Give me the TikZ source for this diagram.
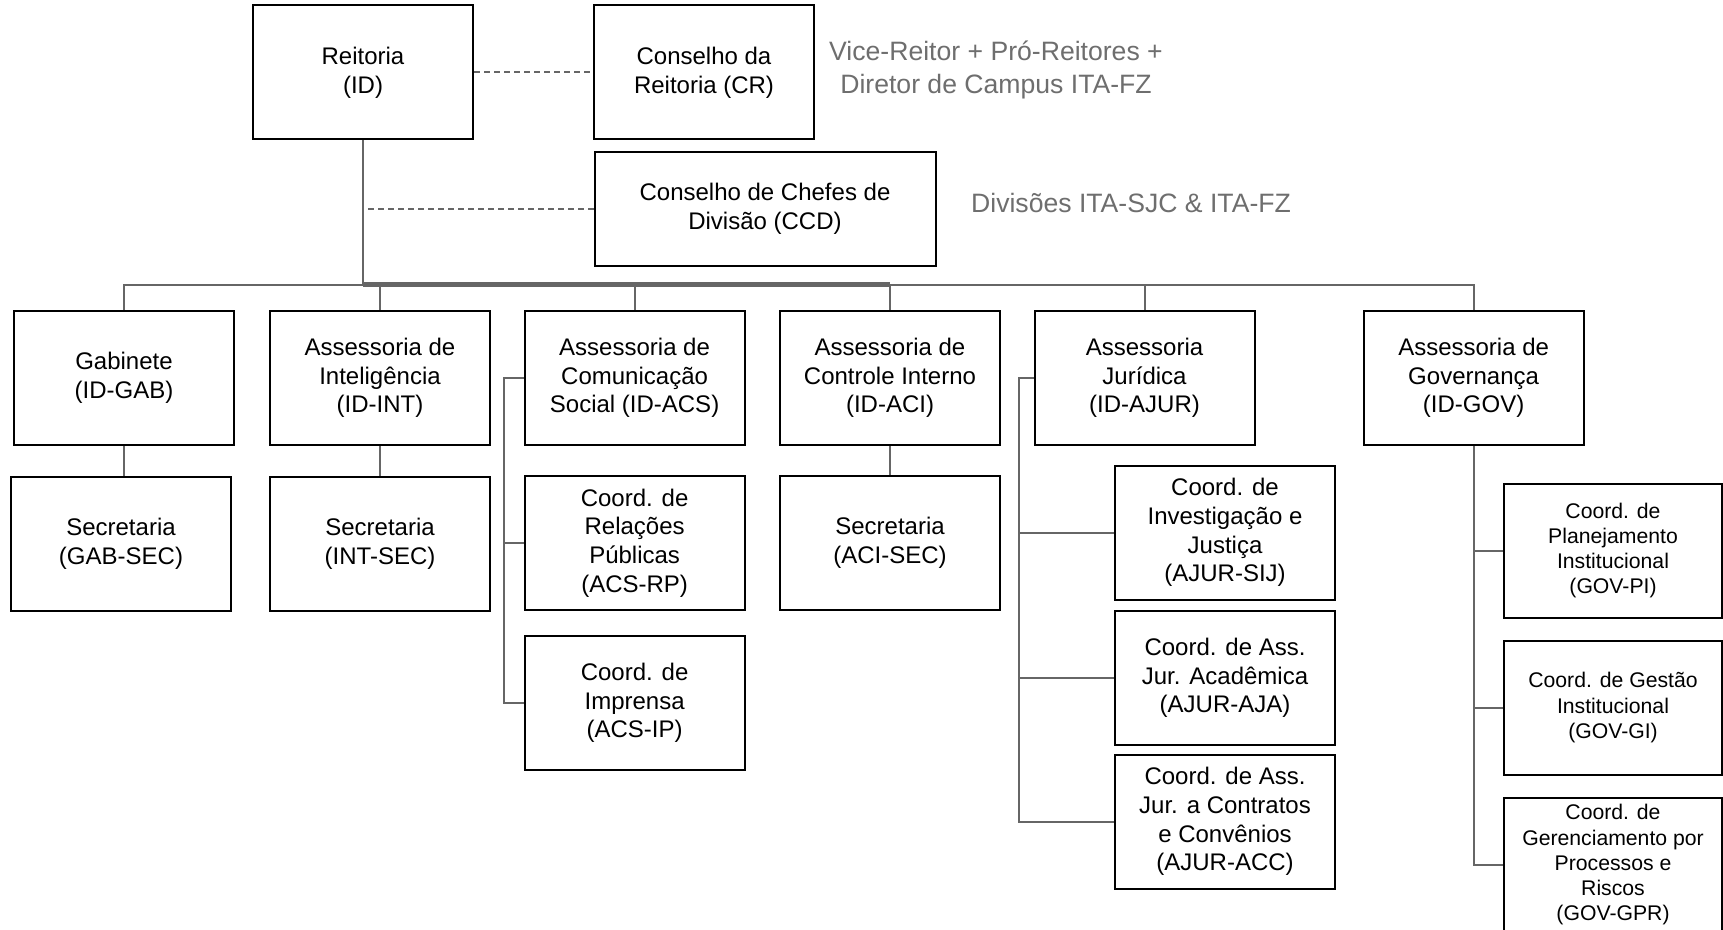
\documentclass[tikz,border=0pt]{standalone}
\usepackage{fontspec}
\setmainfont{Liberation Sans}
\usepackage{xcolor}
\usepackage{tikz}
\usetikzlibrary{positioning}
\definecolor{linegray}{HTML}{666666}
\definecolor{notegray}{HTML}{6E6E6E}
\tikzset{
  unit/.style={draw=black, line width=1pt, minimum width=110pt, minimum height=67pt,
    inner sep=2pt, align=center, font=\fontsize{12}{14.3}\selectfont},
  subunit/.style={unit, font=\fontsize{10.6}{12.6}\selectfont},
  conn/.style={draw=linegray, line width=1pt},
  link/.style={conn, dash pattern=on 3pt off 2pt},
  note/.style={text=notegray, align=center, font=\fontsize{13.3}{16.5}\selectfont},
}

\begin{document}
\begin{tikzpicture}[x=0.5pt,y=-0.5pt]
  \useasboundingbox (0,0) rectangle (1723,930);
  \node[unit] (id) at (363,72.5) {Reitoria\\(ID)};
  \node[unit] (cr) at (704,72.5) {Conselho da\\Reitoria (CR)};
  \node[unit, minimum width=170.5pt, minimum height=57pt] (ccd) at (765,209) {Conselho de Chefes de\\Divisão (CCD)};
  \node[note] (crnote) at (996,70) {Vice-Reitor + Pró-Reitores +\\Diretor de Campus ITA-FZ};
  \node[note] (ccdnote) at (1131,203) {Divisões ITA-SJC \& ITA-FZ};
  \foreach \name/\x/\txt in {gab/124/{Gabinete\\(ID-GAB)},
      int/380/{Assessoria de\\Inteligência\\(ID-INT)},
      acs/634.6/{Assessoria de\\Comunicação\\Social (ID-ACS)},
      aci/890/{Assessoria de\\Controle Interno\\(ID-ACI)},
      ajur/1144.5/{Assessoria\\Jurídica\\(ID-AJUR)},
      gov/1473.6/{Assessoria de\\Governança\\(ID-GOV)}} {
    \node[unit] (\name) at (\x,378) {\txt};
  }
  \node[unit] (gabsec) at (121,543.5) {Secretaria\\(GAB-SEC)};
  \node[unit] (intsec) at (380,543.5) {Secretaria\\(INT-SEC)};
  \node[unit] (acsrp) at (634.6,543) {Coord. de\\Relações\\Públicas\\(ACS-RP)};
  \node[unit] (acsip) at (634.6,703) {Coord. de\\Imprensa\\(ACS-IP)};
  \node[unit] (acisec) at (890,543) {Secretaria\\(ACI-SEC)};
  \node[unit] (sij) at (1225,532.5) {Coord. de\\Investigação e\\Justiça\\(AJUR-SIJ)};
  \node[unit] (aja) at (1225,678) {Coord. de Ass.\\Jur. Acadêmica\\(AJUR-AJA)};
  \node[unit] (acc) at (1225,821.5) {Coord. de Ass.\\Jur. a Contratos\\e Convênios\\(AJUR-ACC)};
  \node[subunit, minimum width=109pt] (pi) at (1613,550.5) {Coord. de\\Planejamento\\Institucional\\(GOV-PI)};
  \node[subunit, minimum width=109pt] (gi) at (1613,707.7) {Coord. de Gestão\\Institucional\\(GOV-GI)};
  \node[subunit, minimum width=109pt] (gpr) at (1613,864.8) {Coord. de\\Gerenciamento por\\Processos e\\Riscos\\(GOV-GPR)};

  \coordinate (bus) at (363,284.6);
  \draw[link] (id) -- (cr);
  \draw[link] (ccd.west) -- (ccd.west -| id.south);
  \draw[conn] (id.south) -- (bus);
  \foreach \name in {gab,int,acs,aci,ajur,gov} {
    \draw[conn] (bus) -| (\name.north);
  }
  \draw[conn, line width=2.2pt] (bus) -- (bus -| aci.north);
  \foreach \top/\sub in {gab/gabsec,int/intsec,aci/acisec} {
    \draw[conn] (\top.south) -- (\top.south |- \sub.north);
  }
  \draw[conn] (acs.west) -- ++(-20,0) |- (acsip.west);
  \draw[conn] (acs.west) ++(-20,0) |- (acsrp.west);
  \draw[conn] (ajur.west) -- ++(-15,0) |- (acc.west);
  \foreach \sub in {sij,aja} {
    \draw[conn] (ajur.west) ++(-15,0) |- (\sub.west);
  }
  \foreach \sub in {pi,gi,gpr} {
    \draw[conn] (gov.south) |- (\sub.west);
  }
\end{tikzpicture}
\end{document}
